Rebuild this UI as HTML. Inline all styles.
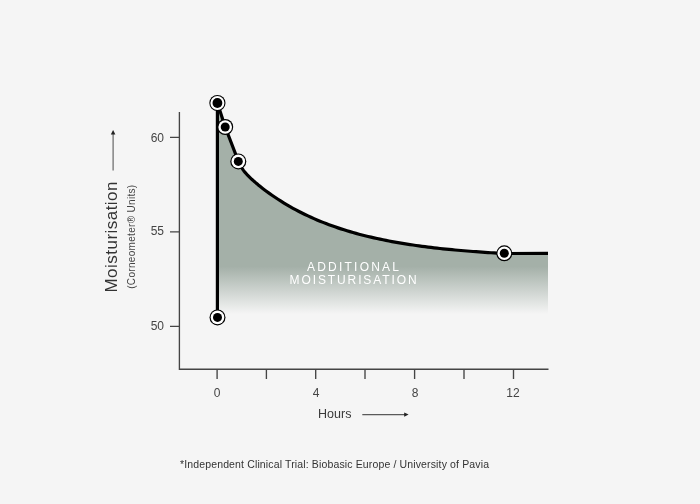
<!DOCTYPE html>
<html><head><meta charset="utf-8">
<style>
html,body{margin:0;padding:0;background:#f5f5f5;width:700px;height:504px;overflow:hidden}
svg{display:block;will-change:transform}
text{font-family:"Liberation Sans",sans-serif}
</style></head><body>
<svg width="700" height="504" viewBox="0 0 700 504">
<defs>
<linearGradient id="fill" gradientUnits="userSpaceOnUse" x1="0" y1="102" x2="0" y2="314">
<stop offset="0" stop-color="#a4b0a8"/>
<stop offset="0.776" stop-color="#a4b0a8"/>
<stop offset="1" stop-color="#f5f5f5"/>
</linearGradient>
</defs>
<rect width="700" height="504" fill="#f5f5f5"/>
<path d="M217.4,103 L225.2,127 L238.3,161.10 L239.3,163.37 L240.3,165.35 L241.3,167.10 L242.3,168.67 L243.3,170.10 L244.3,171.41 L245.3,172.63 L246.3,173.78 L247.3,174.88 L248.3,175.92 L249.3,176.92 L250.3,177.89 L251.3,178.84 L252.3,179.76 L253.3,180.65 L254.3,181.53 L255.3,182.40 L256.3,183.25 L257.3,184.09 L258.3,184.91 L259.3,185.72 L260.0,186.29 L263.0,188.64 L266.0,190.92 L269.0,193.12 L272.0,195.24 L275.0,197.29 L278.0,199.28 L281.0,201.20 L284.0,203.06 L287.0,204.86 L290.0,206.60 L293.0,208.28 L296.0,209.91 L299.0,211.49 L302.0,213.01 L305.0,214.49 L308.0,215.92 L311.0,217.30 L314.0,218.63 L317.0,219.93 L320.0,221.18 L323.0,222.39 L326.0,223.56 L329.0,224.69 L332.0,225.79 L335.0,226.85 L338.0,227.87 L341.0,228.86 L344.0,229.82 L347.0,230.75 L350.0,231.65 L353.0,232.52 L356.0,233.36 L359.0,234.18 L362.0,234.96 L365.0,235.72 L368.0,236.46 L371.0,237.17 L374.0,237.86 L377.0,238.53 L380.0,239.18 L383.0,239.80 L386.0,240.41 L389.0,240.99 L392.0,241.56 L395.0,242.10 L398.0,242.63 L401.0,243.15 L404.0,243.64 L407.0,244.12 L410.0,244.58 L413.0,245.03 L416.0,245.47 L419.0,245.89 L422.0,246.29 L425.0,246.69 L428.0,247.07 L431.0,247.44 L434.0,247.79 L437.0,248.14 L440.0,248.47 L443.0,248.79 L446.0,249.10 L449.0,249.41 L452.0,249.70 L455.0,249.98 L458.0,250.25 L461.0,250.52 L464.0,250.77 L467.0,251.02 L470.0,251.26 L473.0,251.49 L476.0,251.72 L479.0,251.93 L482.0,252.14 L485.0,252.35 L488.0,252.54 L491.0,252.73 L494.0,252.92 L497.0,253.10 L500.0,253.27 L503.0,253.43 L504.3,253.51 L548,253.4 L548,322 L217.4,322 Z" fill="url(#fill)"/>
<g stroke="#444" stroke-width="1.35" fill="none">
<path d="M179.4,112 V369.2 H548.5"/>
<path d="M170,137.3 H179.4 M170,231.8 H179.4 M170,326.4 H179.4"/>
<path d="M217.1,369 V379 M266.4,369 V379 M315.7,369 V379 M365,369 V379 M414.6,369 V379 M464,369 V379 M513.5,369 V379"/>
</g>
<path d="M217.4,317.5 V103 L225.2,127 L238.3,161.10 L239.3,163.37 L240.3,165.35 L241.3,167.10 L242.3,168.67 L243.3,170.10 L244.3,171.41 L245.3,172.63 L246.3,173.78 L247.3,174.88 L248.3,175.92 L249.3,176.92 L250.3,177.89 L251.3,178.84 L252.3,179.76 L253.3,180.65 L254.3,181.53 L255.3,182.40 L256.3,183.25 L257.3,184.09 L258.3,184.91 L259.3,185.72 L260.0,186.29 L263.0,188.64 L266.0,190.92 L269.0,193.12 L272.0,195.24 L275.0,197.29 L278.0,199.28 L281.0,201.20 L284.0,203.06 L287.0,204.86 L290.0,206.60 L293.0,208.28 L296.0,209.91 L299.0,211.49 L302.0,213.01 L305.0,214.49 L308.0,215.92 L311.0,217.30 L314.0,218.63 L317.0,219.93 L320.0,221.18 L323.0,222.39 L326.0,223.56 L329.0,224.69 L332.0,225.79 L335.0,226.85 L338.0,227.87 L341.0,228.86 L344.0,229.82 L347.0,230.75 L350.0,231.65 L353.0,232.52 L356.0,233.36 L359.0,234.18 L362.0,234.96 L365.0,235.72 L368.0,236.46 L371.0,237.17 L374.0,237.86 L377.0,238.53 L380.0,239.18 L383.0,239.80 L386.0,240.41 L389.0,240.99 L392.0,241.56 L395.0,242.10 L398.0,242.63 L401.0,243.15 L404.0,243.64 L407.0,244.12 L410.0,244.58 L413.0,245.03 L416.0,245.47 L419.0,245.89 L422.0,246.29 L425.0,246.69 L428.0,247.07 L431.0,247.44 L434.0,247.79 L437.0,248.14 L440.0,248.47 L443.0,248.79 L446.0,249.10 L449.0,249.41 L452.0,249.70 L455.0,249.98 L458.0,250.25 L461.0,250.52 L464.0,250.77 L467.0,251.02 L470.0,251.26 L473.0,251.49 L476.0,251.72 L479.0,251.93 L482.0,252.14 L485.0,252.35 L488.0,252.54 L491.0,252.73 L494.0,252.92 L497.0,253.10 L500.0,253.27 L503.0,253.43 L504.3,253.51 L548,253.4" stroke="#000" stroke-width="3.2" fill="none" stroke-linejoin="round"/>
<g>
<g transform="translate(217.4,103)"><circle r="8.1" fill="#000"/><circle r="7.0" fill="#fff"/><circle r="4.9" fill="#000"/></g>
<g transform="translate(225.2,127)"><circle r="8" fill="#000"/><circle r="6.8" fill="#fff"/><circle r="4.5" fill="#000"/></g>
<g transform="translate(238.3,161.4)"><circle r="8" fill="#000"/><circle r="6.8" fill="#fff"/><circle r="4.5" fill="#000"/></g>
<g transform="translate(504.3,253.3)"><circle r="8" fill="#000"/><circle r="6.8" fill="#fff"/><circle r="4.5" fill="#000"/></g>
<g transform="translate(217.5,317.4)"><circle r="8" fill="#000"/><circle r="6.8" fill="#fff"/><circle r="4.5" fill="#000"/></g>
</g>
<g fill="#444" font-size="12" text-anchor="end">
<text x="164" y="142">60</text>
<text x="164" y="235.3">55</text>
<text x="164" y="329.8">50</text>
</g>
<g fill="#444" font-size="12" text-anchor="middle">
<text x="217" y="397">0</text>
<text x="316" y="397">4</text>
<text x="415" y="397">8</text>
<text x="513" y="397">12</text>
</g>
<text x="318" y="418" fill="#3a3a3a" font-size="12.5" textLength="33.5" lengthAdjust="spacing">Hours</text>
<path d="M362.3,414.6 H405" stroke="#5a5a5a" stroke-width="1.1"/>
<path d="M408.6,414.6 L404.2,412.5 V416.7 Z" fill="#222"/>
<g transform="translate(117.3,292.5) rotate(-90)">
<text x="0" y="0" fill="#333" font-size="17" textLength="111" lengthAdjust="spacing">Moisturisation</text>
</g>
<g transform="translate(134.5,288.8) rotate(-90)">
<text x="0" y="0" fill="#444" font-size="10" textLength="104" lengthAdjust="spacing">(Corneometer® Units)</text>
</g>
<path d="M113.1,170.6 V133.5" stroke="#5a5a5a" stroke-width="1.1"/>
<path d="M113.1,130 L110.8,134.5 H115.4 Z" fill="#222"/>
<g fill="#fff" font-size="12">
<text x="307" y="270.5" textLength="92" lengthAdjust="spacing">ADDITIONAL</text>
<text x="289.6" y="284" textLength="127" lengthAdjust="spacing">MOISTURISATION</text>
</g>
<text x="180" y="468.2" fill="#333" font-size="10.5" textLength="309" lengthAdjust="spacing">*Independent Clinical Trial: Biobasic Europe / University of Pavia</text>
</svg>
</body></html>
